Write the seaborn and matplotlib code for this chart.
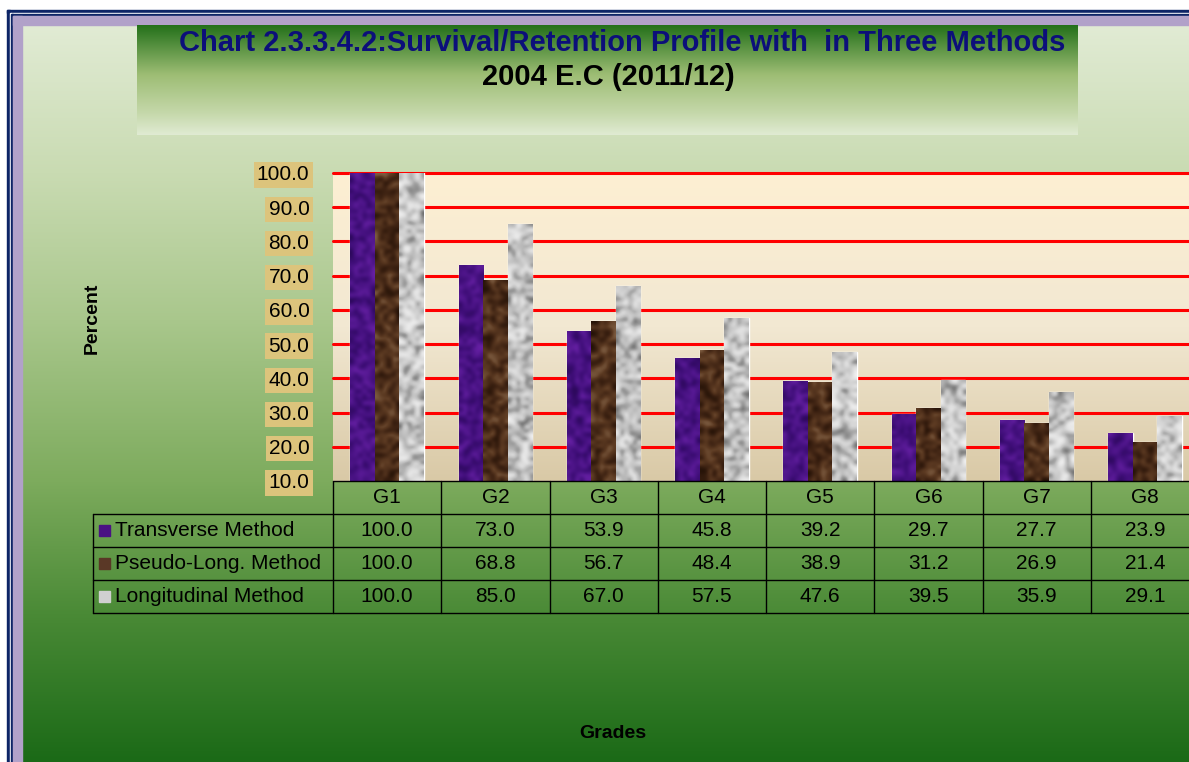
import numpy as np
import pandas as pd
import seaborn as sns
import matplotlib.pyplot as plt
from matplotlib.colors import LinearSegmentedColormap
from matplotlib.patches import Rectangle

# ---------------------------------------------------------
# DATA
# ---------------------------------------------------------
grades = ['G1', 'G2', 'G3', 'G4', 'G5', 'G6', 'G7', 'G8']
methods = ['Transverse Method', 'Pseudo-Long. Method', 'Longitudinal Method']
transverse = [100.0, 73.0, 53.9, 45.8, 39.2, 29.7, 27.7, 23.9]
pseudo_long = [100.0, 68.8, 56.7, 48.4, 38.9, 31.2, 26.9, 21.4]
longitudinal = [100.0, 85.0, 67.0, 57.5, 47.6, 39.5, 35.9, 29.1]
y_ticks = [10, 20, 30, 40, 50, 60, 70, 80, 90, 100]

values = [transverse, pseudo_long, longitudinal]
df = pd.DataFrame({
    'grade': grades * 3,
    'method': [m for m in methods for _ in grades],
    'value': transverse + pseudo_long + longitudinal,
})

# ---------------------------------------------------------
# STYLE
# ---------------------------------------------------------
sns.set_theme(style="white")
plt.rcParams['font.family'] = ['Liberation Sans', 'DejaVu Sans']
plt.rcParams['text.color'] = 'black'
plt.rcParams['ytick.color'] = 'black'
plt.rcParams['ytick.labelcolor'] = 'black'

W, H = 1189, 762
fig = plt.figure(figsize=(W / 100, H / 100), dpi=100)


def fx(x):
    return x / W


def fy(y):
    return 1 - y / H


def gradient_axes(rect, stops, z=0):
    a = fig.add_axes(rect, zorder=z)
    cm = LinearSegmentedColormap.from_list('g', stops)
    a.imshow(np.linspace(0, 1, 256).reshape(-1, 1), cmap=cm, aspect='auto',
             extent=(0, 1, 0, 1), origin='upper')
    a.set_axis_off()
    return a


# outer background (light green to dark green)
gradient_axes([fx(22), 0, 1 - fx(22), fy(25)],
              [(0.0, '#e1ebd4'), (0.2, '#c9dbb2'), (0.4, '#a9c78c'),
               (0.62, '#7dab5d'), (0.8, '#4a8a36'), (1.0, '#1b6a17')], z=-10)

# border: navy double line + lavender band
for (x0, y0, w, h, c) in [
    (7, 10, W, 3, '#0d2466'), (7, 13, W, 1, 'white'), (11, 14, W, 2, '#0d2466'),
    (7, 10, 3, H, '#0d2466'), (10, 13, 1, H, 'white'), (11, 14, 2, H, '#0d2466'),
    (13, 16, W, 9, '#b1a1c9'), (13, 16, 9, H, '#b1a1c9'),
]:
    fig.patches.append(Rectangle((fx(x0), fy(y0 + h)), w / W, h / H,
                                 transform=fig.transFigure, color=c, zorder=-5))

# title box
gradient_axes([fx(137), fy(135), fx(1078 - 137), 110 / H],
              [(0.0, '#23701a'), (0.45, '#9dbd74'), (0.8, '#c5d8aa'),
               (1.0, '#e0ebd3')], z=-4)
fig.text(fx(622), fy(43), 'Chart 2.3.3.4.2:Survival/Retention Profile with  in Three Methods',
         ha='center', va='center', fontsize=21, fontweight='bold', color='#0c0f7a')
fig.text(fx(608), fy(77), '2004 E.C (2011/12)', ha='center', va='center',
         fontsize=21, fontweight='bold', color='black')

# ---------------------------------------------------------
# PLOT AREA
# ---------------------------------------------------------
ax_left, ax_right, ax_top, ax_bot = 333, 1199, 173, 481
gradient_axes([fx(ax_left), fy(ax_bot), (ax_right - ax_left) / W, (ax_bot - ax_top) / H],
              [(0.0, '#fdefd3'), (0.5, '#f2e8d2'), (1.0, '#d9c9a6')], z=-3)

ax = fig.add_axes([fx(ax_left), fy(ax_bot), (ax_right - ax_left) / W, (ax_bot - ax_top) / H])
ax.patch.set_alpha(0)

palette = ['#4a1183', '#4a2b17', '#b0b0b0']
sns.barplot(data=df, x='grade', y='value', hue='method', order=grades,
            hue_order=methods, palette=palette, width=0.68, ax=ax,
            errorbar=None, legend=False, saturation=1, zorder=3)

# mottled textures clipped to bars
tex_maps = [
    LinearSegmentedColormap.from_list('p', ['#2a0858', '#3f0e78', '#52178e', '#6a22a8']),
    LinearSegmentedColormap.from_list('b', ['#1e0e04', '#3d2212', '#5c3a22', '#86664a']),
    LinearSegmentedColormap.from_list('m', ['#505050', '#8c8c8c', '#bdbdbd', '#dcdcdc', '#f6f6f6']),
]
rng = np.random.default_rng(7)
px_per_x = (ax_right - ax_left) / 8.0
px_per_y = (ax_bot - ax_top) / 90.0
n_g = len(grades)
for k, bar in enumerate(ax.patches):
    s = k // n_g
    x0, w = bar.get_x(), bar.get_width()
    y0, h = 10, bar.get_height() - 10
    if h <= 0:
        continue
    nc = max(int(w * px_per_x / 4), 3)
    nr = max(int(h * px_per_y / 4), 3)
    noise = rng.random((nr, nc))
    if s == 2:
        noise = noise ** 0.75
    im = ax.imshow(noise, cmap=tex_maps[s], extent=(x0, x0 + w, y0, y0 + h),
                   aspect='auto', interpolation='bicubic', zorder=4, vmin=0, vmax=1)
    im.set_clip_path(bar)

ax.set_xlim(-0.5, 7.5)
ax.set_ylim(10, 100)
for v in y_ticks[1:]:
    ax.axhline(v, color='#ff0000', lw=2.2, zorder=2, clip_on=False)
sns.despine(ax=ax, left=True, bottom=True, top=True, right=True)
ax.set_xlabel('')
ax.set_ylabel('')
ax.set_xticks([])
ax.set_yticks(y_ticks)
ax.set_yticklabels([f'{v:.1f}' for v in y_ticks], fontsize=15)
ax.tick_params(axis='y', length=0, pad=17, labelcolor='black')
for lab in ax.get_yticklabels():
    lab.set_bbox(dict(boxstyle='square,pad=0.15', facecolor='#dcc47c', edgecolor='none'))

fig.text(fx(92), fy(318), 'Percent', rotation=90, ha='center', va='center',
         fontsize=14, fontweight='bold')
fig.text(fx(613), fy(733), 'Grades', ha='center', va='center',
         fontsize=14, fontweight='bold')

# ---------------------------------------------------------
# DATA TABLE
# ---------------------------------------------------------
row_h = 33
tab_left = 93
lw = 1.0


def hline(y, x0, x1):
    fig.add_artist(plt.Line2D([fx(x0), fx(x1)], [fy(y), fy(y)], color='black', lw=lw))


def vline(x, y0, y1):
    fig.add_artist(plt.Line2D([fx(x), fx(x)], [fy(y0), fy(y1)], color='black', lw=lw))


hline(ax_bot, ax_left, ax_right)
for r in range(1, 5):
    hline(ax_bot + r * row_h, tab_left, ax_right)
vline(tab_left, ax_bot + row_h, ax_bot + 4 * row_h)
for i in range(len(grades) + 1):
    vline(ax_left + i * px_per_x, ax_bot, ax_bot + 4 * row_h)

for i, g in enumerate(grades):
    cx = ax_left + (i + 0.5) * px_per_x
    fig.text(fx(cx), fy(ax_bot + row_h / 2), g, ha='center', va='center', fontsize=15)
    for r, vals in enumerate(values):
        fig.text(fx(cx), fy(ax_bot + (r + 1.5) * row_h), f'{vals[i]:.1f}',
                 ha='center', va='center', fontsize=15)

swatch = ['#4a1183', '#5a3826', '#d0d0d0']
for r, m in enumerate(methods):
    cy = ax_bot + (r + 1.5) * row_h
    fig.patches.append(Rectangle((fx(99), fy(cy + 5)), 11 / W, 11 / H,
                                 transform=fig.transFigure, color=swatch[r], zorder=5))
    fig.text(fx(115), fy(cy), m, ha='left', va='center', fontsize=15)

fig.savefig('out.png', dpi=100)
